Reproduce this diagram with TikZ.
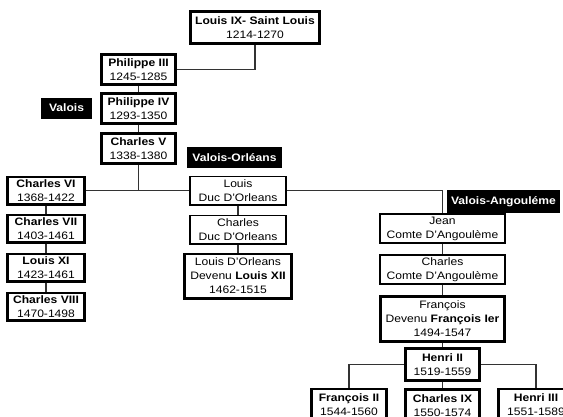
\documentclass[tikz,border=0pt]{standalone}
\usepackage{fontspec}
\setmainfont{Liberation Sans}[FakeStretch=1.12]
\usetikzlibrary{positioning}
\definecolor{linkc}{HTML}{333333}

\begin{document}
\begin{tikzpicture}[
    x=1pt, y=-1pt,
    font=\fontsize{10.8}{14}\selectfont,
    king/.style={draw=black, line width=2.6pt, fill=white, align=center, inner xsep=1pt, inner ysep=0.5pt, minimum width=74.4pt, minimum height=30.4pt},
    duc/.style={draw=black, line width=1.8pt, fill=white, align=center, inner xsep=1pt, inner ysep=0.5pt, minimum width=96.2pt, minimum height=28.2pt},
    tag/.style={fill=black, text=white, font=\fontsize{10.8}{14}\selectfont\bfseries, inner sep=0pt, minimum height=#1},
    tag/.default=21pt,
    link/.style={draw=linkc, line width=1.2pt},
  ]
  \useasboundingbox[fill=white] (0,0) rectangle (563,416);
  \clip (0,0) rectangle (563,416);
  % ---- Capetiens
  \node[king, minimum width=129.4pt, minimum height=32.4pt] (louisIX) at (255,27.5) {\textbf{Louis IX- Saint Louis}\\ 1214-1270};
  \node[king] (philIII) at (138.5,69.5) {\textbf{Philippe III}\\ 1245-1285};
  \node[king, below=6pt of philIII] (philIV) {\textbf{Philippe IV}\\ 1293-1350};
  \node[king, below=7pt of philIV] (charlesV) {\textbf{Charles V}\\ 1338-1380};
  \node[tag, minimum width=51pt] (valois) at (66.5,108) {Valois};
  % ---- branche ainee
  \node[king, minimum width=77.4pt, minimum height=27.4pt] (charlesVI) at (46,190.5) {\textbf{Charles VI}\\ 1368-1422};
  \node[king, minimum width=77.4pt, minimum height=27.4pt, below=8pt of charlesVI] (charlesVII) {\textbf{Charles VII}\\ 1403-1461};
  \node[king, minimum width=77.4pt, minimum height=27.4pt, below=9pt of charlesVII] (louisXI) {\textbf{Louis XI}\\ 1423-1461};
  \node[king, minimum width=77.4pt, minimum height=27.4pt, below=9pt of louisXI] (charlesVIII) {\textbf{Charles VIII}\\ 1470-1498};
  % ---- Valois-Orleans
  \node[tag, minimum width=95pt] (orleans) at (234.5,157.5) {Valois-Orléans};
  \node[duc] (louisDuc) at (238,190.5) {Louis\\ Duc D’Orleans};
  \node[duc, below=9pt of louisDuc] (charlesDuc) {Charles\\ Duc D’Orleans};
  \node[king, minimum width=107.4pt, minimum height=44.4pt, below=8pt of charlesDuc] (louisXII) {Louis D’Orleans\\ Devenu \textbf{Louis XII}\\ 1462-1515};
  % ---- Valois-Angouleme
  \node[tag=23pt, minimum width=113pt] (angouleme) at (503.5,201.5) {Valois-Angouléme};
  \node[duc, minimum width=125.2pt, minimum height=29.2pt] (jean) at (442.5,228.5) {Jean\\ Comte D’Angoulème};
  \node[duc, minimum width=125.2pt, minimum height=29.2pt, below=10pt of jean] (charlesComte) {Charles\\ Comte D’Angoulème};
  \node[king, minimum width=124.4pt, minimum height=45.4pt, below=10pt of charlesComte] (francois) {François\\ Devenu \textbf{François Ier}\\ 1494-1547};
  \node[king, minimum height=32.4pt, below=4pt of francois] (henriII) {\textbf{Henri II}\\ 1519-1559};
  \node[king, minimum width=75.4pt, minimum height=32.4pt] (francoisII) at (349,405) {\textbf{François II}\\ 1544-1560};
  \node[king, minimum height=32.4pt, below=6pt of henriII] (charlesIX) {\textbf{Charles IX}\\ 1550-1574};
  \node[king, minimum width=75.4pt, minimum height=32.4pt] (henriIII) at (536,405) {\textbf{Henri III}\\ 1551-1589};
  % ---- links
  \draw[link] (philIII.east) -| (louisIX.south);
  \draw[link] (philIII) -- (philIV);
  \draw[link] (philIV) -- (charlesV);
  \draw[link] (charlesVI.east) -- (louisDuc.west);
  \draw[link] (charlesV.south) -- (charlesV.south |- charlesVI.east);
  \draw[link] (charlesVI) -- (charlesVII);
  \draw[link] (charlesVII) -- (louisXI);
  \draw[link] (louisXI) -- (charlesVIII);
  \draw[link] (louisDuc) -- (charlesDuc);
  \draw[link] (charlesDuc) -- (louisXII);
  \draw[link] (louisDuc.east) -| (jean.north);
  \draw[link] (jean) -- (charlesComte);
  \draw[link] (charlesComte) -- (francois);
  \draw[link] (francois) -- (henriII);
  \draw[link] (henriII.west) -| (francoisII.north);
  \draw[link] (henriII) -- (charlesIX);
  \draw[link] (henriII.east) -| (henriIII.north);
\end{tikzpicture}
\end{document}
